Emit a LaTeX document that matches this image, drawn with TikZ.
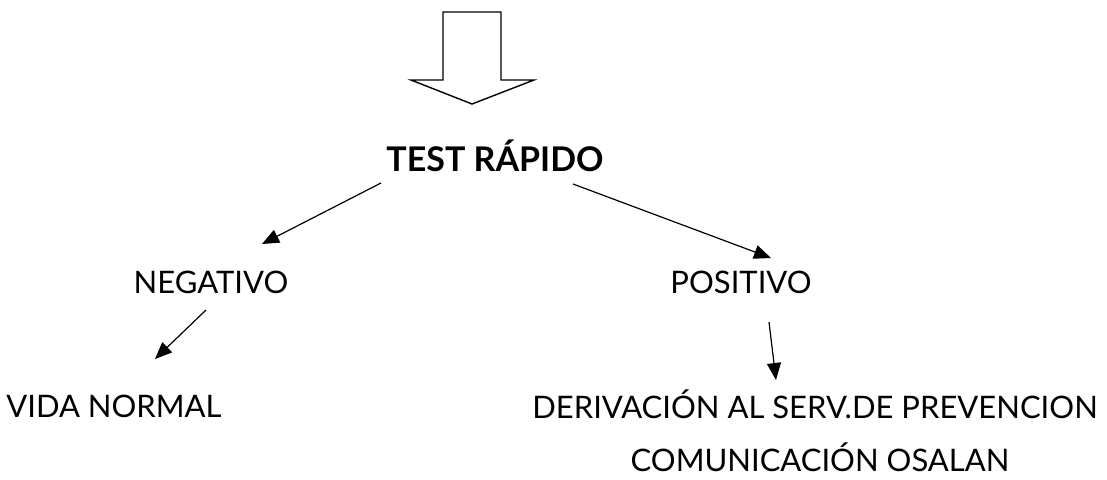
\documentclass[tikz,border=0pt]{standalone}
\usepackage{fontspec}
\setmainfont{Lato}
\usetikzlibrary{arrows.meta,positioning}

\begin{document}
\begin{tikzpicture}[x=1pt,y=-1pt,
	testo/.style={font=\fontsize{31}{36}\selectfont, inner sep=0pt, anchor=base},
	freccia/.style={-{Triangle[length=17pt,width=14pt]}, line width=1.2pt}]
\useasboundingbox (0,0) rectangle (1107,479);
%freccia grande
\draw[line width=1.4pt] (443,12) -- (501,12) -- (501,80) -- (534,80) -- (472,104) -- (411,80) -- (443,80) -- cycle;
%testi
\node[testo, font=\fontsize{34}{40}\selectfont\bfseries] (test) at (495,171) {TEST RÁPIDO};
\node[testo] (neg) at (211,293) {NEGATIVO};
\node[testo] (pos) at (741,293) {POSITIVO};
\node[testo] (vida) at (114,417) {VIDA NORMAL};
\node[testo] (deriv) at (815,418) {DERIVACIÓN AL SERV.DE PREVENCION};
\node[testo] (com) at (820,471) {COMUNICACIÓN OSALAN};
%frecce
\coordinate (t1) at (381,183);
\coordinate (n1) at (262,244);
\coordinate (t2) at (573,184);
\coordinate (p1) at (771,258);
\coordinate (n2) at (206,310);
\coordinate (v1) at (155,359);
\coordinate (p2) at (769,322);
\coordinate (d1) at (776,380);
\draw[freccia] (t1) -- (n1);
\draw[freccia] (t2) -- (p1);
\draw[freccia] (n2) -- (v1);
\draw[freccia] (p2) -- (d1);
\end{tikzpicture}
\end{document}
